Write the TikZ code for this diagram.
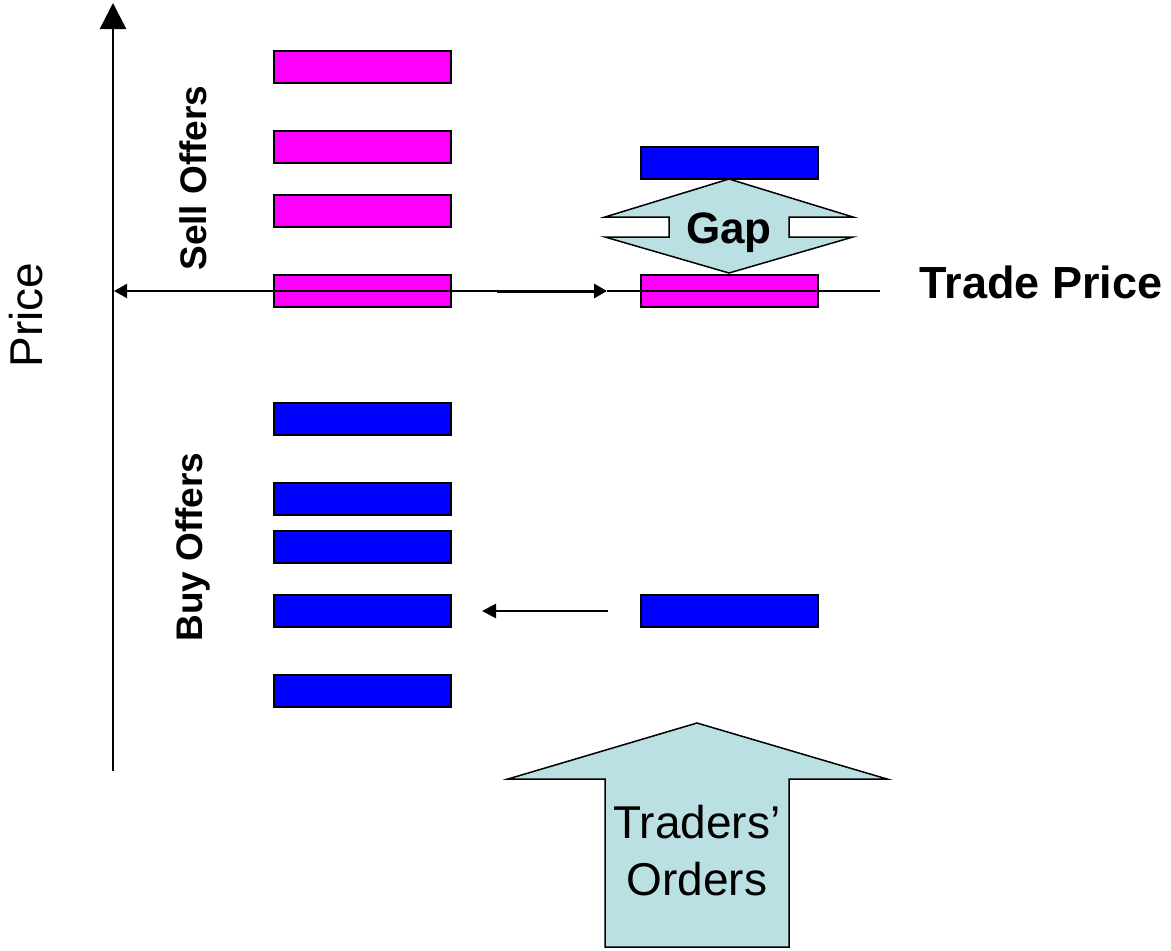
\documentclass[tikz,border=0pt]{standalone}
\usepackage{fontspec}
\setmainfont{Liberation Sans}
\usetikzlibrary{arrows.meta}

\definecolor{sellcol}{HTML}{FF00FF}
\definecolor{buycol}{HTML}{0000FF}
\definecolor{calloutcol}{HTML}{BBE0E3}

\tikzset{
  order/.style={draw=black, line width=2pt, minimum width=177pt, minimum height=32pt, inner sep=0pt},
  sell/.style={order, fill=sellcol},
  buy/.style={order, fill=buycol},
  callout/.style={draw=black, line width=1.5pt, fill=calloutcol, line join=miter},
  axisline/.style={line width=2.5pt, -{Triangle[length=26pt,width=26pt]}},
  priceline/.style={line width=2pt},
  pointer/.style={line width=2.5pt, -{Triangle[length=14pt,width=14pt]}},
  vlabel/.style={rotate=90, anchor=base, inner sep=0pt},
}

\begin{document}
\begin{tikzpicture}[x=1pt, y=-1pt]
  \useasboundingbox (0,0) rectangle (1171,951);

  % price axis
  \coordinate (axbot) at (113,771);
  \coordinate (axtop) at (113,3);
  \draw[axisline] (axbot) -- (axtop);
  \node[vlabel, font=\fontsize{46}{50}\selectfont] (pricelbl) at (42,315) {Price};

  % order book: sell side
  \node[sell] (s1) at (362,67) {};
  \node[sell] (s2) at (362,147) {};
  \node[sell] (s3) at (362,211) {};
  \node[sell] (s4) at (362,291) {};
  % order book: buy side
  \node[buy] (b1) at (362,419) {};
  \node[buy] (b2) at (362,499) {};
  \node[buy] (b3) at (362,547) {};
  \node[buy] (b4) at (362,611) {};
  \node[buy] (b5) at (362,691) {};

  \node[vlabel, font=\bfseries\fontsize{37}{40}\selectfont] (selllbl) at (206,178) {Sell Offers};
  \node[vlabel, font=\bfseries\fontsize{37}{40}\selectfont] (buylbl) at (202,547) {Buy Offers};

  % matched orders on the right
  \node[buy] (rb1) at (729,163) {};
  \node[sell] (rs1) at (729,291) {};
  \node[buy] (rb2) at (729,611) {};

  % trade price line
  \coordinate (tpmid) at (497,291);
  \coordinate (tpaxis) at (114,291);
  \coordinate (tpend) at (880,291);
  \coordinate (tptip) at (607,291);
  \draw[priceline, -{Triangle[length=13pt,width=14pt]}] (tpmid) -- (tpaxis);
  \draw[priceline, line width=3pt, -{Triangle[length=13pt,width=14pt]}] (tpmid) -- (tptip);
  \draw[priceline] (tptip) -- (tpend);
  \node[anchor=base, inner sep=0pt, font=\bfseries\fontsize{45}{50}\selectfont] (tplbl) at (1041,298) {Trade Price};

  % incoming buy order joins the book
  \coordinate (inc) at (608,611);
  \coordinate (inctip) at (482,611);
  \draw[pointer] (inc) -- (inctip);

  % gap callout between best bid and ask
  \draw[callout]
    (729,179) -- (853,217) -- (789,217) -- (789,237) -- (853,237) -- (729,273)
    -- (605,237) -- (669,237) -- (669,217) -- (605,217) -- cycle;
  \node[anchor=base, inner sep=0pt, font=\bfseries\fontsize{44}{48}\selectfont] (gaplbl) at (729,243) {Gap};

  % traders' orders arrow
  \draw[callout]
    (697,723) -- (887,779) -- (789,779) -- (789,947) -- (605,947) -- (605,779)
    -- (508,779) -- cycle;
  \node[align=center, anchor=base, inner sep=0pt, font=\fontsize{46}{57}\selectfont] (tradlbl) at (697,895) {Traders'\\Orders};
\end{tikzpicture}
\end{document}
